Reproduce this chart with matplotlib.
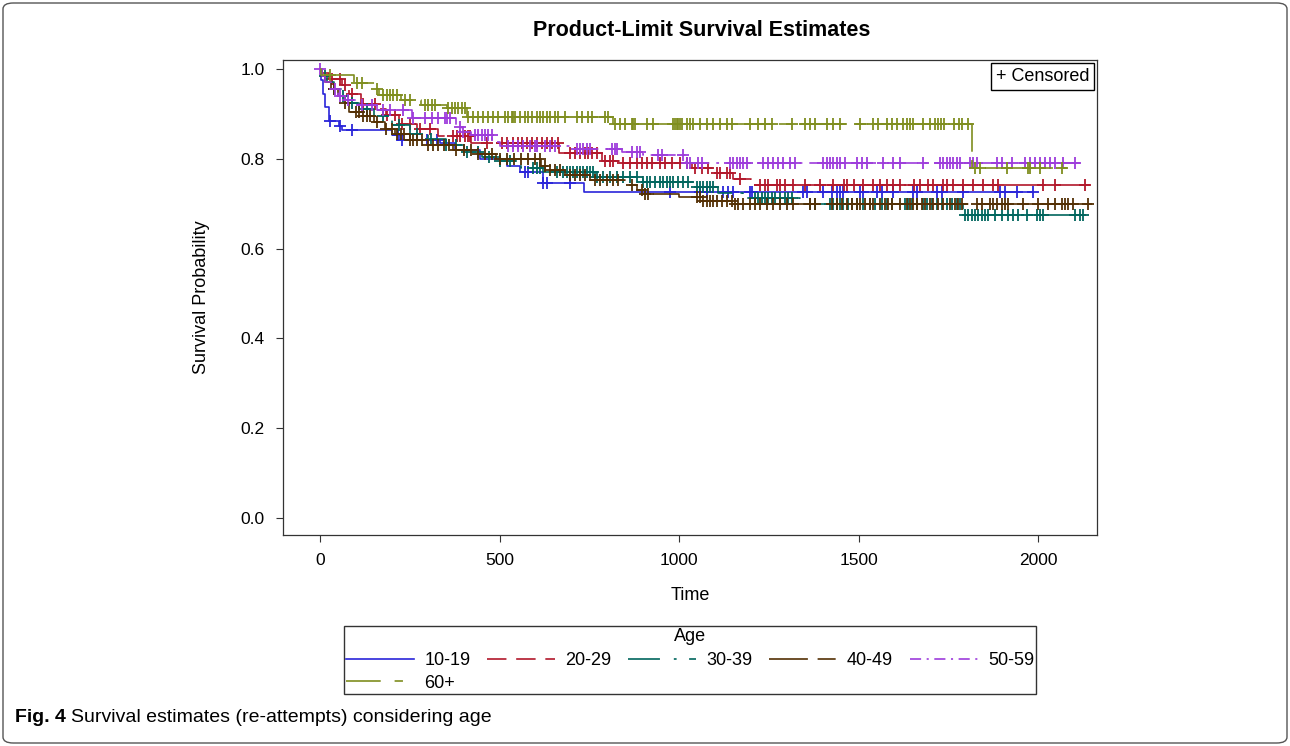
import numpy as np
import matplotlib
matplotlib.use("Agg")
import matplotlib.pyplot as plt
from matplotlib.lines import Line2D
from matplotlib.patches import FancyBboxPatch

plt.rcParams['font.family'] = ['Liberation Sans', 'DejaVu Sans']

##data: step times, survival after each step, censored times##
groups = ['10-19', '20-29', '30-39', '40-49', '50-59', '60+']
colors = ['#2A25D9', '#B2182B', '#01665E', '#543005', '#9D3CDB', '#7F8E1F']

t_1019 = [0, 4, 8, 14, 24, 52, 62, 200, 223, 334, 376, 445, 520, 557, 621, 735]
s_1019 = [1.0, 0.975, 0.945, 0.915, 0.885, 0.872, 0.864, 0.853, 0.842, 0.835, 0.82, 0.80, 0.785, 0.77, 0.745, 0.726]
c_1019 = [28, 56, 89, 217, 228, 298, 326, 571, 580, 621, 632, 696, 975, 1058, 1078, 1123, 1137, 1150,
          1198, 1203, 1345, 1357, 1401, 1426, 1440, 1448, 1457, 1504, 1512, 1552, 1565, 1596, 1652, 1663,
          1719, 1733, 1791, 1894, 1908, 1942, 1986]
end_1019 = 1986

t_2029 = [0, 3, 25, 60, 80, 115, 155, 185, 220, 270, 330, 420, 665, 785, 835, 1035, 1100, 1150, 1200]
s_2029 = [1.0, 0.99, 0.978, 0.964, 0.944, 0.922, 0.91, 0.898, 0.877, 0.866, 0.85, 0.835, 0.813, 0.795,
          0.79, 0.78, 0.768, 0.755, 0.742]
c_2029 = [33, 56, 70, 89, 120, 153, 187, 209, 228, 251, 279, 306, 370, 382, 390, 404, 412, 418, 465, 507,
          521, 538, 552, 563, 577, 591, 604, 618, 632, 646, 663, 696, 710, 724, 738, 747, 758, 772, 794, 808,
          816, 844, 864, 883, 897, 911, 925, 947, 961, 980, 1003, 1022, 1045, 1064, 1081, 1106, 1114, 1134,
          1142, 1170, 1226, 1240, 1249, 1272, 1281, 1295, 1318, 1351, 1393, 1430, 1458, 1467, 1486, 1513,
          1541, 1560, 1579, 1597, 1616, 1653, 1671, 1694, 1708, 1736, 1745, 1764, 1792, 1820, 1847, 1875,
          1889, 2014, 2047, 2131]
end_2029 = 2145

t_3039 = [0, 5, 20, 40, 60, 80, 110, 150, 200, 250, 300, 350, 400, 450, 500, 560, 620, 765, 900, 1045,
          1108, 1178, 1337, 1790]
s_3039 = [1.0, 0.985, 0.97, 0.955, 0.94, 0.925, 0.91, 0.895, 0.875, 0.855, 0.845, 0.83, 0.815, 0.805,
          0.795, 0.78, 0.77, 0.76, 0.748, 0.737, 0.724, 0.713, 0.70, 0.675]
c_3039 = [15, 40, 65, 90, 130, 175, 220, 270, 310, 350, 380, 410, 440, 470, 500, 530, 593, 604, 613, 660,
          677, 688, 696, 705, 716, 724, 733, 744, 752, 760, 772, 788, 808, 827, 844, 864, 883, 900, 911, 919,
          933, 947, 955, 967, 975, 983, 997, 1011, 1025, 1050, 1058, 1067, 1078, 1086, 1095, 1212, 1220,
          1231, 1240, 1248, 1259, 1267, 1281, 1295, 1304, 1315, 1365, 1379, 1421, 1429, 1440, 1448, 1457,
          1471, 1482, 1496, 1513, 1532, 1546, 1565, 1579, 1593, 1630, 1638, 1649, 1663, 1680, 1691, 1705,
          1719, 1733, 1747, 1760, 1774, 1783, 1797, 1805, 1816, 1825, 1833, 1844, 1852, 1861, 1880, 1900,
          1916, 1930, 1944, 1969, 1997, 2006, 2014, 2103, 2117, 2125]
end_3039 = 2131

t_4049 = [0, 5, 15, 30, 50, 65, 80, 120, 150, 180, 210, 250, 300, 370, 430, 490, 615, 640, 682, 752, 850,
          883, 905, 1000, 1060, 1150]
s_4049 = [1.0, 0.985, 0.97, 0.955, 0.94, 0.925, 0.905, 0.895, 0.882, 0.866, 0.855, 0.842, 0.83, 0.82, 0.81,
          0.80, 0.785, 0.775, 0.764, 0.753, 0.742, 0.73, 0.722, 0.714, 0.706, 0.70]
c_4049 = [40, 70, 100, 110, 120, 130, 140, 160, 185, 200, 215, 225, 235, 250, 260, 270, 285, 300, 315, 330,
          345, 360, 380, 400, 420, 440, 460, 480, 500, 520, 540, 560, 580, 600, 613, 627, 641, 655, 668, 696,
          710, 724, 738, 766, 780, 800, 815, 830, 870, 897, 905, 914, 1050, 1058, 1067, 1078, 1086, 1095,
          1106, 1120, 1134, 1148, 1156, 1164, 1178, 1198, 1212, 1226, 1245, 1262, 1281, 1301, 1318, 1365,
          1379, 1426, 1440, 1454, 1468, 1482, 1496, 1504, 1518, 1532, 1540, 1560, 1574, 1582, 1593, 1616,
          1635, 1643, 1652, 1663, 1677, 1685, 1699, 1708, 1721, 1735, 1755, 1769, 1777, 1788, 1830, 1844,
          1866, 1875, 1886, 1900, 1908, 1916, 1958, 2000, 2028, 2047, 2067, 2075, 2084, 2097, 2139]
end_4049 = 2150

t_5059 = [0, 5, 15, 30, 50, 70, 110, 160, 255, 380, 395, 420, 480, 500, 700, 840, 900, 1020]
s_5059 = [1.0, 0.985, 0.97, 0.955, 0.94, 0.93, 0.92, 0.909, 0.89, 0.87, 0.86, 0.853, 0.838, 0.828, 0.822,
          0.815, 0.808, 0.79]
c_5059 = [0, 42, 56, 78, 117, 145, 175, 195, 231, 259, 292, 312, 329, 348, 354, 362, 390, 398, 432, 440,
          451, 460, 468, 479, 524, 538, 552, 565, 585, 599, 604, 627, 641, 655, 716, 724, 733, 744, 752, 813,
          822, 827, 869, 883, 891, 942, 953, 1011, 1022, 1031, 1054, 1064, 1142, 1150, 1162, 1170, 1178,
          1189, 1234, 1248, 1262, 1276, 1290, 1309, 1323, 1401, 1412, 1421, 1429, 1440, 1448, 1462, 1496,
          1510, 1524, 1568, 1596, 1616, 1680, 1727, 1736, 1747, 1755, 1764, 1775, 1783, 1811, 1819, 1830,
          1886, 1900, 1928, 1964, 1978, 1992, 2006, 2019, 2033, 2047, 2070, 2103]
end_5059 = 2117

t_60 = [0, 3, 95, 155, 165, 225, 280, 355, 410, 815, 1815]
s_60 = [1.0, 0.987, 0.969, 0.955, 0.942, 0.931, 0.92, 0.913, 0.893, 0.877, 0.78]
c_60 = [28, 103, 117, 159, 175, 187, 195, 203, 214, 237, 251, 292, 301, 312, 320, 357, 368, 376, 384, 396,
        404, 412, 426, 440, 454, 468, 482, 496, 515, 524, 535, 538, 543, 557, 571, 579, 591, 604, 613, 621,
        632, 641, 655, 663, 682, 716, 730, 747, 758, 794, 802, 822, 836, 850, 869, 872, 877, 911, 928, 983,
        989, 994, 997, 1003, 1008, 1022, 1031, 1039, 1058, 1078, 1095, 1114, 1134, 1148, 1198, 1220, 1240,
        1259, 1315, 1351, 1365, 1379, 1412, 1429, 1448, 1504, 1540, 1554, 1579, 1593, 1607, 1625, 1635,
        1643, 1652, 1680, 1699, 1713, 1721, 1730, 1738, 1766, 1780, 1788, 1805, 1825, 1838, 1914, 1972,
        1978, 2006, 2067]
end_60 = 2080

series = [
    (t_1019, s_1019, c_1019, end_1019),
    (t_2029, s_2029, c_2029, end_2029),
    (t_3039, s_3039, c_3039, end_3039),
    (t_4049, s_4049, c_4049, end_4049),
    (t_5059, s_5059, c_5059, end_5059),
    (t_60, s_60, c_60, end_60),
]

##line patterns (plot / legend), in points at lw 1##
plot_dashes = [None, (30, 6), (30, 6, 2.5, 6), (36, 6, 18, 6), (18, 5, 2, 5), (34, 6, 9, 6)]
leg_dashes = [None, (14, 7), (23, 10, 2, 9), (28, 7, 13, 7), (8, 4, 1.5, 4), (25, 10, 6, 10)]
LW = 1.2

fig = plt.figure(figsize=(12.9, 7.46), dpi=100)
ax = fig.add_axes([283 / 1290, 1 - 535 / 746, 814 / 1290, 475 / 746])

for (times, surv, cens, end), col, dsh in zip(series, colors, plot_dashes):
    tt = np.array(times + [end])
    ss = np.array(surv + [surv[-1]])
    if dsh is None:
        ax.step(tt, ss, where='post', color=col, lw=LW, linestyle='-')
    else:
        ax.step(tt, ss, where='post', color=col, lw=LW, dashes=[d / LW for d in dsh])
    ##censored marks sit on the curve##
    idx = np.searchsorted(np.array(times), np.array(cens), side='right') - 1
    cy = np.array(surv)[idx]
    ax.plot(cens, cy, linestyle='none', marker='+', ms=9, mew=1.3, color=col)

ax.set_xlim(-103, 2164)
ax.set_ylim(-0.038, 1.02)
ax.set_xticks([0, 500, 1000, 1500, 2000])
ax.set_yticks([0.0, 0.2, 0.4, 0.6, 0.8, 1.0])
ax.set_yticklabels(['0.0', '0.2', '0.4', '0.6', '0.8', '1.0'])
ax.tick_params(direction='out', length=5, width=0.8, labelsize=12.5, pad=8, color='#333333')
for sp in ax.spines.values():
    sp.set_color('#333333')
    sp.set_linewidth(0.9)
ax.set_xlabel('Time', fontsize=13, labelpad=14)
ax.set_ylabel('Survival Probability', fontsize=13, labelpad=22)

ax.text(1 - 8 / 814, 1 - 8 / 475, '+ Censored', transform=ax.transAxes, ha='right', va='top', fontsize=13,
        bbox=dict(boxstyle='square,pad=0.25', fc='white', ec='black', lw=1.0))

fig.text(702 / 1290, 1 - 31 / 746, 'Product-Limit Survival Estimates', ha='center', va='center',
         fontsize=15.5, weight='bold')

##legend: 5 columns, column-major order so 60+ sits on the second row##
handles = []
for col, dsh in zip(colors, leg_dashes):
    if dsh is None:
        handles.append(Line2D([], [], color=col, lw=LW, linestyle='-'))
    else:
        handles.append(Line2D([], [], color=col, lw=LW, dashes=[d / LW for d in dsh]))
blank = Line2D([], [], linestyle='none')
order_h = [handles[0], handles[5], handles[1], blank, handles[2], blank, handles[3], blank, handles[4], blank]
order_l = [groups[0], groups[5], groups[1], '', groups[2], '', groups[3], '', groups[4], '']
leg = fig.legend(order_h, order_l, ncol=5, loc='upper center', bbox_to_anchor=(690 / 1290, 1 - 626 / 746),
                 borderaxespad=0, title='Age', fontsize=13, title_fontsize=13, frameon=True, fancybox=False,
                 edgecolor='black', handlelength=3.8, handletextpad=0.55, columnspacing=0.9,
                 labelspacing=0.3, borderpad=0.12)
leg.get_frame().set_linewidth(1.0)
leg._legend_box.sep = 5

##caption with bold figure number##
cap1 = fig.text(15 / 1290, 1 - 717 / 746, 'Fig. 4', fontsize=14, weight='bold', va='center')
fig.canvas.draw()
bb = cap1.get_window_extent()
fig.text((bb.x1 + 5) / 1290, 1 - 717 / 746, 'Survival estimates (re-attempts) considering age',
         fontsize=14, va='center')

##rounded border round the whole figure##
fig.patches.append(FancyBboxPatch((3 / 1290, 3 / 746), 1284 / 1290, 740 / 746,
                                  boxstyle='round,pad=0,rounding_size=0.008',
                                  transform=fig.transFigure, fc='none', ec='#555555', lw=1.0))

plt.savefig('out.png', dpi=100)
